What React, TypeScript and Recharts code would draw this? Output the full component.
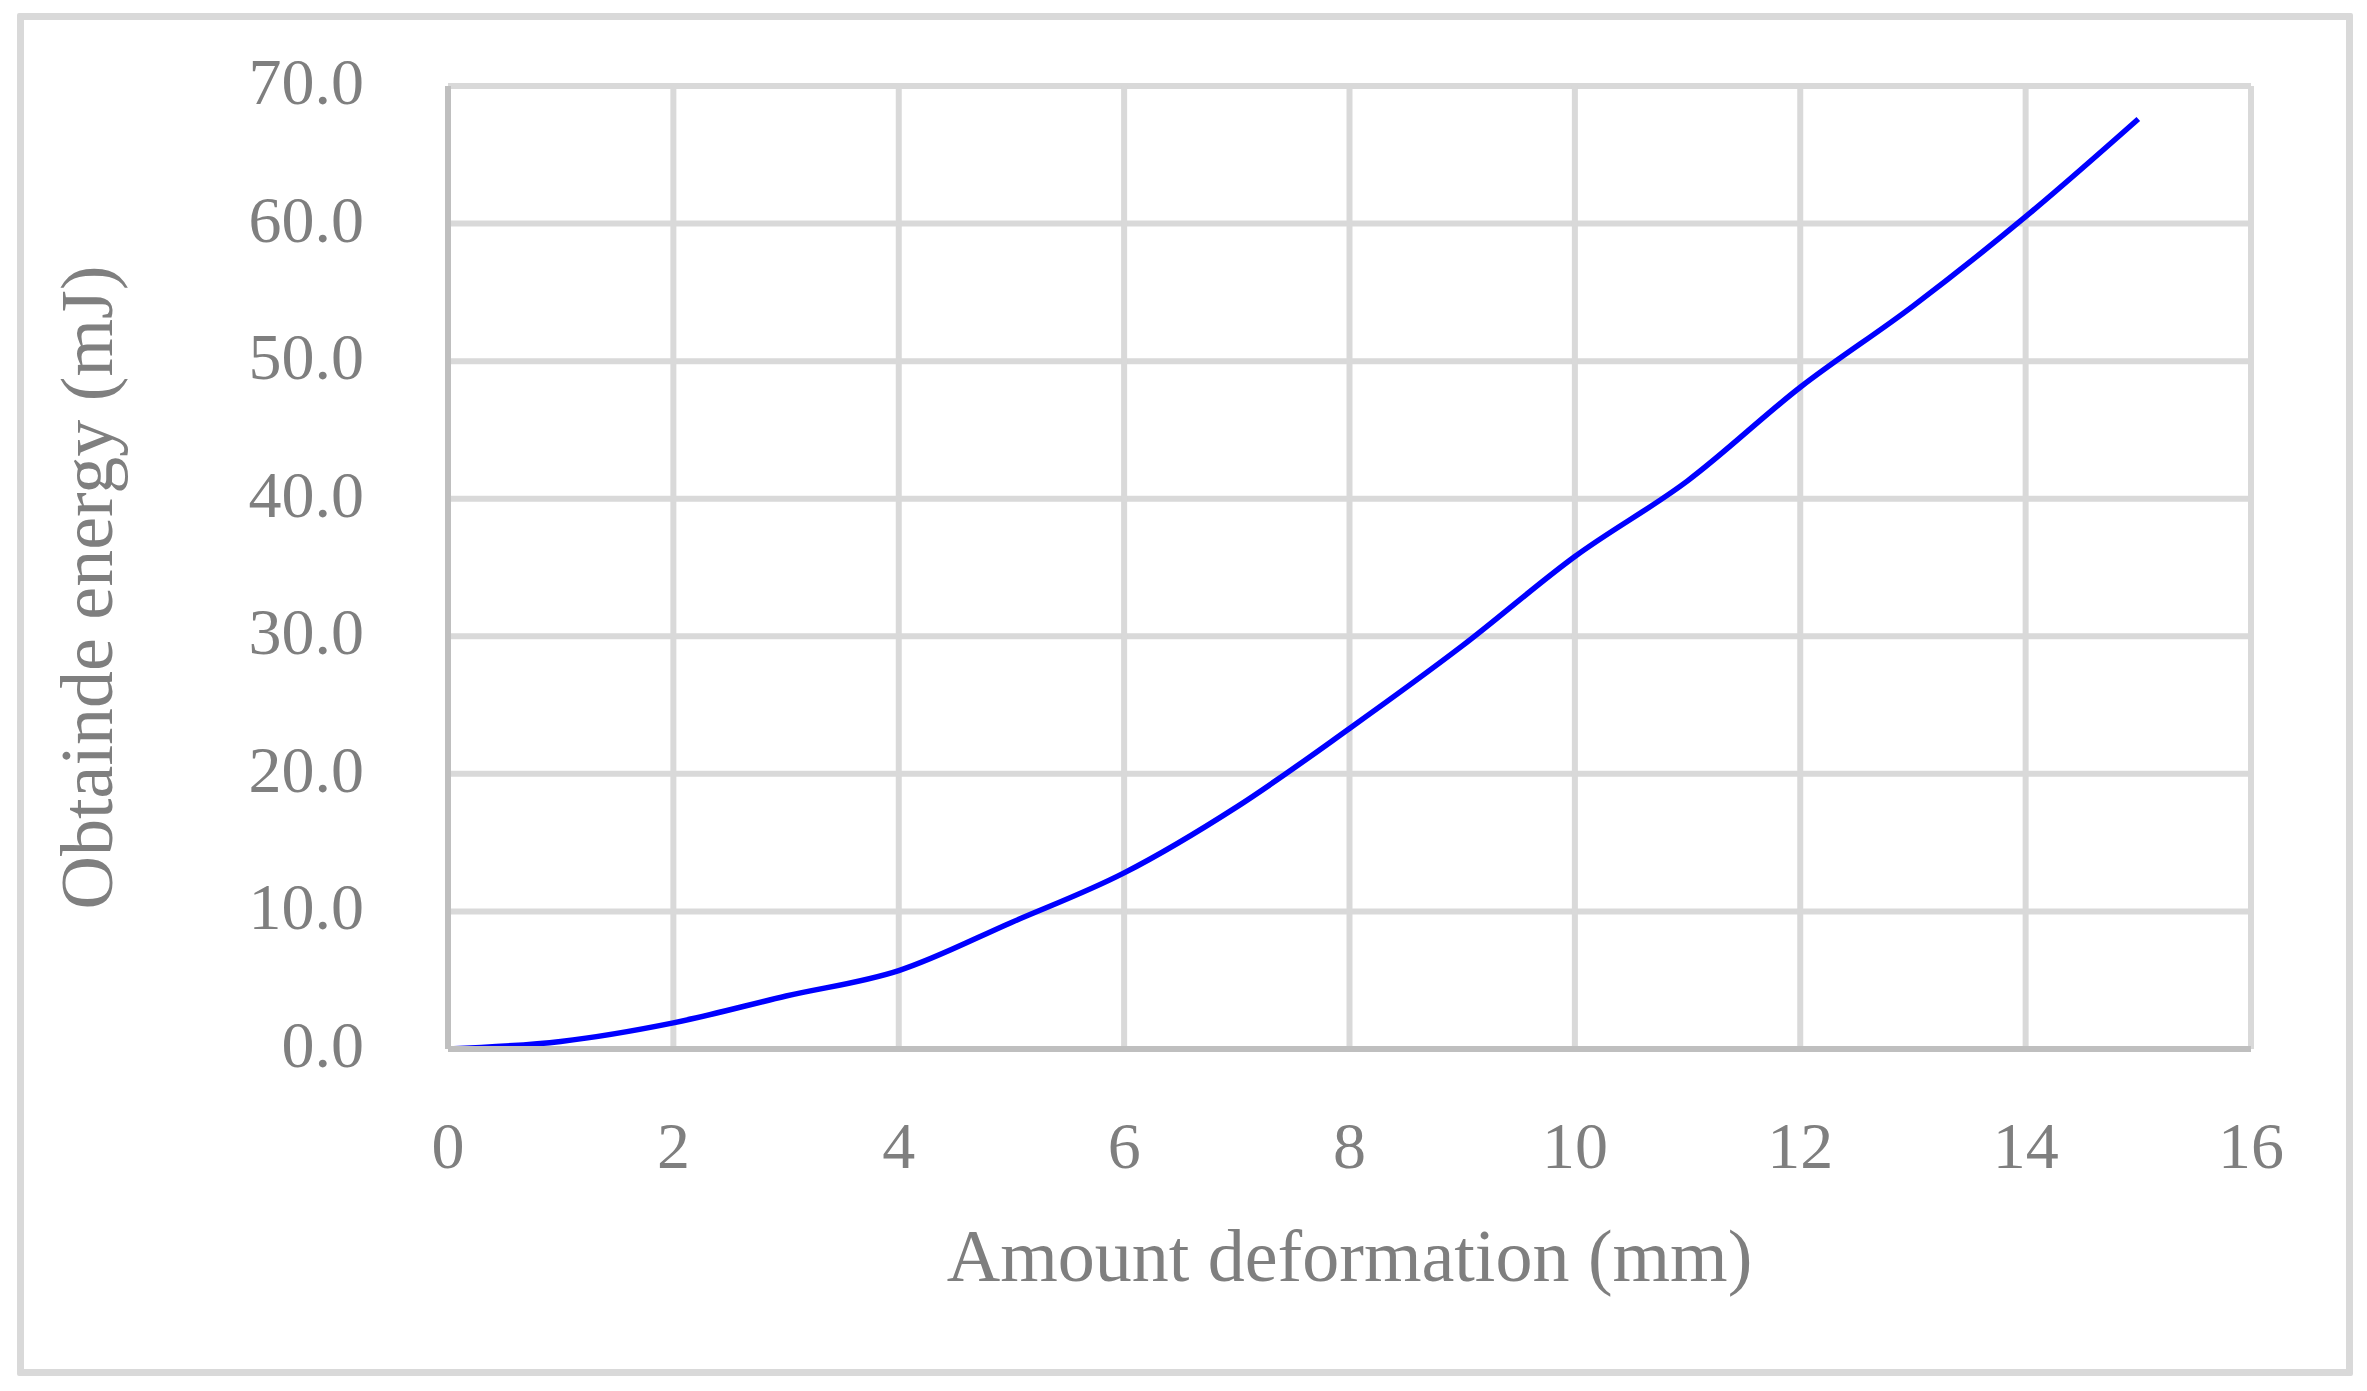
// Energy vs deformation curve, Excel-style grey frame and serif labels.
import { LineChart, Line, XAxis, YAxis, CartesianGrid } from "recharts";

const deformation = [0, 1, 2, 3, 4, 5, 6, 7, 8, 9, 10, 11, 12, 13, 14, 15];
const energy = [0, 0.55, 1.9, 3.85, 5.7, 9.2, 12.8, 17.6, 23.3, 29.3, 35.8, 41.3, 48.1, 54.0, 60.5, 67.6];
const xTicks = [0, 2, 4, 6, 8, 10, 12, 14, 16];
const yTicks = [0, 10, 20, 30, 40, 50, 60, 70];
const xTitle = "Amount deformation (mm)";
const yTitle = "Obtainde energy (mJ)";

const data = deformation.map((x, i) => ({ x, e: energy[i] }));

const FONT = "'Palatino Linotype', 'Book Antiqua', Palatino, 'Liberation Serif', serif";
const GREY = "#7f7f7f";
const GRID = "#d9d9d9";
const AXIS = "#bfbfbf";

const XTick = ({ x, y, payload }: any) => (
  <text x={x} y={y + 119} textAnchor="middle" fill={GREY} fontSize={66} fontFamily={FONT}>{payload.value}</text>
);
const YTick = ({ x, y, payload }: any) => (
  <text x={x} y={y + 18} textAnchor="end" fill={GREY} fontSize={66} fontFamily={FONT}>{Number(payload.value).toFixed(1)}</text>
);

const XTitle = (p: any) => {
  const vb = p.viewBox;
  return (
    <text x={vb.x + vb.width / 2} y={vb.y + 232} textAnchor="middle" fill={GREY} fontSize={74} fontFamily={FONT}>{xTitle}</text>
  );
};
const YTitle = (p: any) => {
  const vb = p.viewBox;
  const cx = vb.x - 236, cy = vb.y + vb.height / 2 + 20;
  return (
    <text x={cx} y={cy} transform={`rotate(-90, ${cx}, ${cy})`} textAnchor="middle" fill={GREY} fontSize={74} fontFamily={FONT}>{yTitle}</text>
  );
};

export default function App() {
  return (
    <div style={{ position: "absolute", left: 0, top: 0, width: 2367, height: 1391, background: "#fff" }}>
      {/* chart area frame */}
      <div style={{ position: "absolute", left: 17, top: 13, width: 2336, height: 1363, border: `7px solid ${GRID}`, boxSizing: "border-box", borderRadius: 2 }} />
      <div style={{ position: "absolute", left: 0, top: 0 }}>
        <LineChart width={2367} height={1391} data={data} margin={{ top: 86, right: 116, bottom: 282, left: 348 }}>
          <CartesianGrid stroke={GRID} strokeWidth={6} />
          <XAxis dataKey="x" type="number" domain={[0, 16]} ticks={xTicks} interval={0} height={60}
            axisLine={{ stroke: AXIS, strokeWidth: 6 }} tickLine={false} tickSize={0} tickMargin={0}
            tick={<XTick />} label={XTitle} />
          <YAxis type="number" domain={[0, 70]} ticks={yTicks} interval={0} width={100}
            axisLine={{ stroke: AXIS, strokeWidth: 6 }} tickLine={false} tickSize={0} tickMargin={84}
            tick={<YTick />} label={YTitle} />
          <Line type="monotone" dataKey="e" stroke="#0000ff" strokeWidth={5.5} dot={false} activeDot={false} isAnimationActive={false} />
        </LineChart>
      </div>
    </div>
  );
}
